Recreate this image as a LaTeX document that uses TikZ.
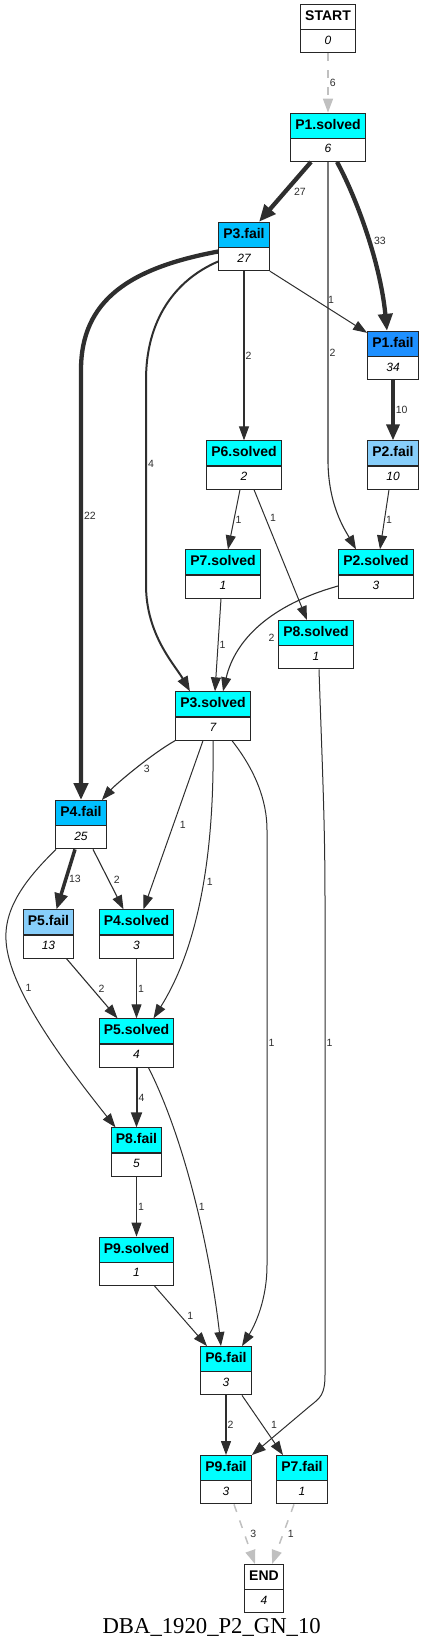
\documentclass[tikz,border=0pt]{standalone}
\usepackage{fontspec}
\setsansfont{Liberation Sans}
\newfontfamily\capfont{Liberation Serif}
\usetikzlibrary{arrows.meta,shapes.multipart}
\definecolor{solvedc}{HTML}{00FFFF}
\definecolor{faildeep}{HTML}{00BFFF}
\definecolor{failblue}{HTML}{1E90FF}
\definecolor{faillight}{HTML}{87CEFA}
\definecolor{edgec}{HTML}{2E2E2E}
\definecolor{dashc}{HTML}{C0C0C0}
\newcommand{\stlbl}[2]{{\fontsize{14}{16}\selectfont\bfseries\rule[-3.5pt]{0pt}{14pt}#1}\nodepart{two}{\fontsize{12}{14}\selectfont\itshape\rule[-3pt]{0pt}{12pt}#2}}

\begin{document}
\begin{tikzpicture}[x=1pt,y=-1pt,
    statebox/.style={draw=black!85,line width=1.1pt,rectangle split,rectangle split parts=2,
        rectangle split part fill={#1,white},inner xsep=4.7pt,inner ysep=5pt,font=\sffamily},
    statebox/.default=white,
    lbl/.style={font=\sffamily\fontsize{10.5}{12}\selectfont,text=edgec,inner sep=1pt},
    e1/.style={draw=edgec,line width=1pt,-{Triangle[length=14pt,width=10pt]}},
    e2/.style={draw=edgec,line width=1.1pt,-{Triangle[length=14pt,width=10pt]}},
    e2w/.style={draw=edgec,line width=2pt,-{Triangle[length=15pt,width=11pt]}},
    e3/.style={draw=edgec,line width=3.5pt,-{Triangle[length=16pt,width=13pt]}},
    e4/.style={draw=edgec,line width=4.3pt,-{Triangle[length=17pt,width=14pt]}},
    dashe/.style={draw=dashc,line width=1.5pt,dash pattern=on 8pt off 9pt,-{Triangle[length=14pt,width=10pt]}}
]
    \useasboundingbox (0,0) rectangle (424,1650);

    \node[statebox] (START) at (328,28.5) {\stlbl{START}{0}};
    \node[statebox=solvedc] (P1solved) at (328,137.3) {\stlbl{P1.solved}{6}};
    \node[statebox=faildeep] (P3fail) at (244,246.5) {\stlbl{P3.fail}{27}};
    \node[statebox=failblue] (P1fail) at (393,355.5) {\stlbl{P1.fail}{34}};
    \node[statebox=solvedc] (P6solved) at (244,465) {\stlbl{P6.solved}{2}};
    \node[statebox=faillight] (P2fail) at (393,465) {\stlbl{P2.fail}{10}};
    \node[statebox=solvedc] (P7solved) at (223,574) {\stlbl{P7.solved}{1}};
    \node[statebox=solvedc] (P2solved) at (376,574) {\stlbl{P2.solved}{3}};
    \node[statebox=solvedc] (P8solved) at (316,644.7) {\stlbl{P8.solved}{1}};
    \node[statebox=solvedc] (P3solved) at (213,716) {\stlbl{P3.solved}{7}};
    \node[statebox=faildeep] (P4fail) at (81,824.7) {\stlbl{P4.fail}{25}};
    \node[statebox=faillight] (P5fail) at (48.5,934) {\stlbl{P5.fail}{13}};
    \node[statebox=solvedc] (P4solved) at (136.5,934) {\stlbl{P4.solved}{3}};
    \node[statebox=solvedc] (P5solved) at (136.5,1043) {\stlbl{P5.solved}{4}};
    \node[statebox=solvedc] (P8fail) at (136.5,1152) {\stlbl{P8.fail}{5}};
    \node[statebox=solvedc] (P9solved) at (136.5,1261.3) {\stlbl{P9.solved}{1}};
    \node[statebox=solvedc] (P6fail) at (226,1370.7) {\stlbl{P6.fail}{3}};
    \node[statebox=solvedc] (P9fail) at (226,1479.7) {\stlbl{P9.fail}{3}};
    \node[statebox=solvedc] (P7fail) at (302,1479.7) {\stlbl{P7.fail}{1}};
    \node[statebox] (END) at (264,1588.7) {\stlbl{END}{4}};
    \node[font=\capfont\fontsize{22.7}{26}\selectfont,anchor=base,inner sep=0pt] (caption)
        at (211.7,1633) {DBA\_1920\_P2\_GN\_10};

    \draw[dashe] (START) -- node[lbl,right]{6} (P1solved);
    \draw[e4] ([xshift=-17pt]P1solved.south) -- node[lbl,right=6pt]{27} ([xshift=15pt]P3fail.north);
    \draw[e4] ([xshift=9pt]P1solved.south) .. controls (355,195) and (380,260) ..
        node[lbl,pos=0.55,right=2pt]{33} ([xshift=-6pt]P1fail.north);
    \draw[e2] (P1solved.south) -- node[lbl,pos=0.64,right]{2} (328,460)
        .. controls (328,505) and (345,530) .. ([xshift=-20pt]P2solved.north);
    \draw[e4] ([yshift=-5pt]P3fail.west) .. controls (130,268) and (81,300) .. (81,370)
        -- node[lbl,pos=0.34,right]{22} (P4fail.north);
    \draw[e2w] ([yshift=-15pt]P3fail.west) .. controls (175,280) and (146,320) .. (146,380)
        -- node[lbl,pos=0.41,right]{4} (146,585)
        .. controls (146,635) and (175,665) .. ([xshift=-23pt]P3solved.north);
    \draw[e2] (P3fail) -- node[lbl,right]{2} (P6solved);
    \draw[e1] (P3fail.south east) -- node[lbl,pos=0.63,above=5pt]{1} ([yshift=-2pt]P1fail.north west);
    \draw[e3] (P1fail) -- node[lbl,right]{10} (P2fail);
    \draw[e1] ([xshift=-4pt]P2fail.south) -- node[lbl,right]{1} ([xshift=4pt]P2solved.north);
    \draw[e1] ([xshift=-4pt]P6solved.south) -- node[lbl,right]{1} ([xshift=5pt]P7solved.north);
    \draw[e1] ([xshift=10pt]P6solved.south) -- node[lbl,pos=0.22,right=3pt]{1} ([xshift=-9pt]P8solved.north);
    \draw[e1] ([xshift=-2pt]P7solved.south) -- node[lbl,right]{1} ([xshift=2pt]P3solved.north);
    \draw[e2] ([yshift=-12pt]P2solved.west) .. controls (270,605) and (235,640) ..
        node[lbl,pos=0.6,right=18pt]{2} ([xshift=10pt]P3solved.north);
    \draw[e1] ([xshift=3pt]P8solved.south) .. controls (322,760) and (325,820) .. (325,900)
        -- node[lbl,pos=0.3,right]{1} (325,1375)
        .. controls (325,1395) and (320,1398) .. (310,1406) -- (P9fail.north east);
    \draw[e2] (P3solved.south west) .. controls (150,755) and (115,785) ..
        node[lbl,pos=0.4,anchor=north west]{3} ([xshift=-5pt]P4fail.north east);
    \draw[e1] ([xshift=-10pt]P3solved.south) -- node[lbl,right=5pt]{1} ([xshift=7pt]P4solved.north);
    \draw[e1] (P3solved.south) .. controls (215,880) and (190,960) ..
        node[lbl,pos=0.4,right=2pt]{1} ([xshift=17pt]P5solved.north);
    \draw[e1] ([xshift=19pt]P3solved.south) .. controls (255,770) and (267,800) .. (267,830)
        -- node[lbl,pos=0.49,right]{1} (267,1265)
        .. controls (267,1300) and (255,1325) .. ([xshift=16pt]P6fail.north);
    \draw[e3] ([xshift=-6pt]P4fail.south) -- node[lbl,right=0.5pt]{13} ([xshift=8pt]P5fail.north);
    \draw[e2] ([xshift=12pt]P4fail.south) -- node[lbl,right=4pt]{2} ([xshift=-13pt]P4solved.north);
    \draw[e1] ([xshift=-25pt]P4fail.south) .. controls (30,875) and (4,905) .. (6,940)
        .. controls (8,990) and (70,1070) .. node[lbl,pos=0.28,right=4pt]{1} ([xshift=-21pt]P8fail.north);
    \draw[e2] ([xshift=18pt]P5fail.south) -- node[lbl,right=5pt]{2} ([xshift=-19pt]P5solved.north);
    \draw[e1] (P4solved) -- node[lbl,right]{1} (P5solved);
    \draw[e2w] (P5solved) -- node[lbl,right]{4} (P8fail);
    \draw[e1] ([xshift=12pt]P5solved.south) .. controls (185,1140) and (210,1250) ..
        node[lbl,pos=0.53,right=1pt]{1} ([xshift=-5pt]P6fail.north);
    \draw[e1] (P8fail) -- node[lbl,right]{1} (P9solved);
    \draw[e1] ([xshift=18pt]P9solved.south) -- node[lbl,right=5pt]{1} ([xshift=-19pt]P6fail.north);
    \draw[e2] (P6fail) -- node[lbl,right]{2} (P9fail);
    \draw[e1] ([xshift=16pt]P6fail.south) -- node[lbl,right=7pt]{1} ([xshift=-19pt]P7fail.north);
    \draw[dashe] ([xshift=8pt]P9fail.south) -- node[lbl,right=4pt]{3} ([xshift=-9pt]END.north);
    \draw[dashe] ([xshift=-8pt]P7fail.south) -- node[lbl,right=3pt]{1} ([xshift=8pt]END.north);
\end{tikzpicture}
\end{document}
